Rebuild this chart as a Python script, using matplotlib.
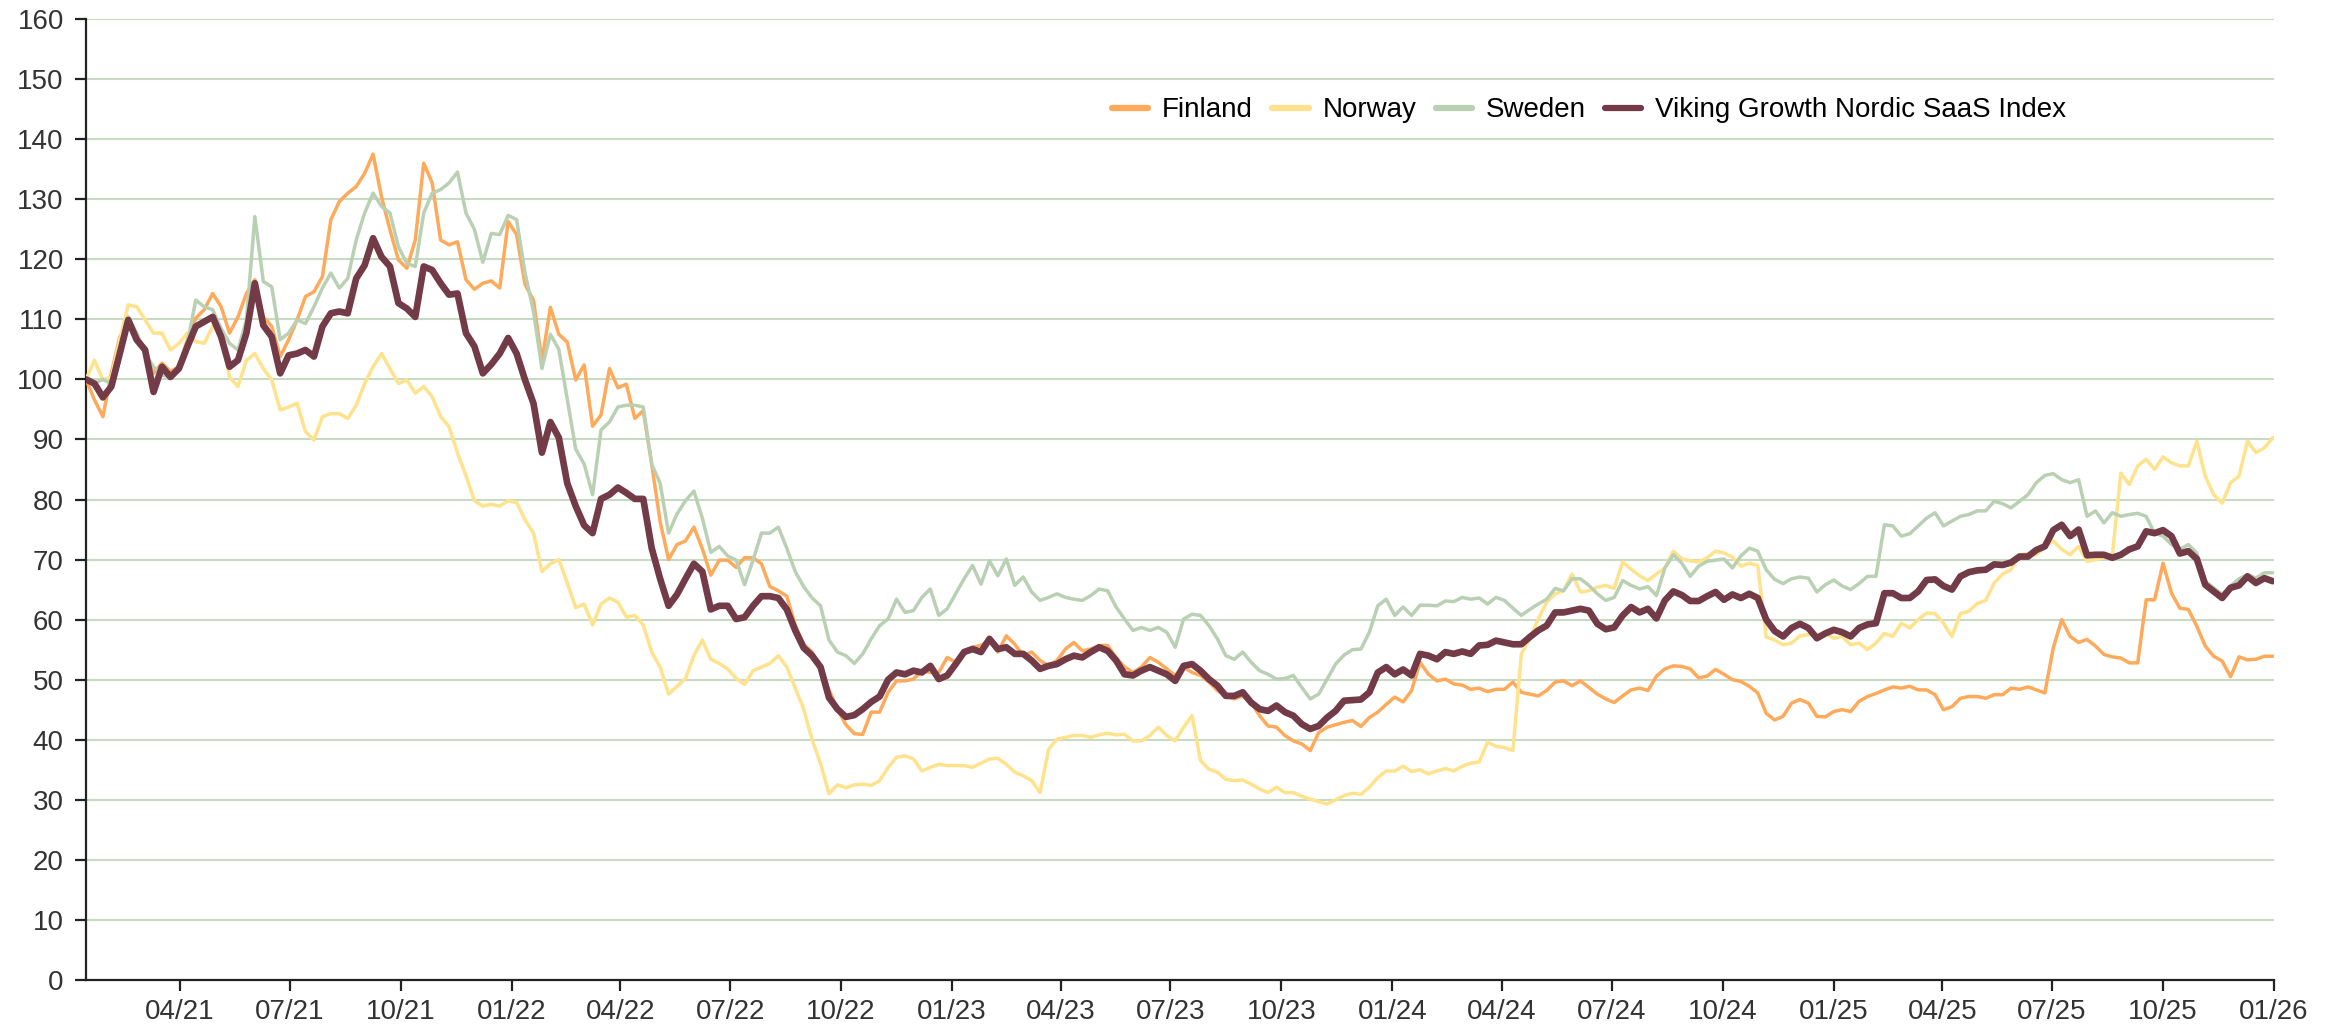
import matplotlib
matplotlib.use("Agg")
import matplotlib.pyplot as plt
import matplotlib.dates as mdates
import pandas as pd

# Weekly observations starting 2021-01-13
start_date = "2021-01-13"
n_points = 260

finland = [
    100, 96.6, 93.8, 101, 107.1, 109.3, 107.7, 104.3, 101, 102.7,
    101.3, 102.1, 106.6, 110.2, 111.6, 114.3, 112.1, 107.7, 110.4, 114.3,
    116.6, 110.4, 108.8, 103.8, 106.6, 109.9, 113.8, 114.6, 117.1, 126.6,
    129.6, 131, 132.1, 134.3, 137.5, 130.4, 124.9, 119.9, 118.5, 123.2,
    136, 132.7, 123.2, 122.4, 122.9, 116.6, 115, 116, 116.4, 115.2,
    126.3, 124.1, 115.8, 113.2, 103.1, 112, 107.5, 106.2, 99.9, 102.4,
    92.2, 94.1, 101.8, 98.6, 99.2, 93.5, 94.8, 85.9, 76.3, 70,
    72.5, 73.1, 75.4, 71.8, 67.4, 69.9, 69.9, 68.7, 70.3, 70.3,
    69.3, 65.5, 64.8, 63.9, 59.1, 55.9, 54.6, 51.5, 48.3, 45.1,
    42.5, 41, 40.9, 44.6, 44.6, 47.9, 49.8, 49.8, 50.1, 51.5,
    51.2, 51.2, 53.7, 52.9, 54.8, 55.4, 55.7, 56.5, 54.6, 57.3,
    55.9, 54, 54.6, 53.2, 52.3, 53.2, 55.1, 56.2, 54.8, 55.1,
    55.7, 55.7, 53.7, 52.1, 51.2, 52.1, 53.7, 52.9, 51.8, 50.7,
    52.1, 51.2, 50.7, 49.6, 48.2, 47.3, 46.8, 47.3, 46.2, 44,
    42.3, 42.1, 40.7, 39.8, 39.3, 38.2, 41.2, 42.1, 42.5, 42.9,
    43.2, 42.2, 43.7, 44.6, 45.9, 47.1, 46.3, 48.2, 52.9, 50.9,
    49.8, 50.1, 49.3, 49.1, 48.4, 48.6, 48, 48.4, 48.4, 49.6,
    47.9, 47.6, 47.3, 48.2, 49.6, 49.8, 49, 49.8, 48.7, 47.6,
    46.8, 46.2, 47.3, 48.3, 48.6, 48.2, 50.6, 51.8, 52.3, 52.2,
    51.8, 50.3, 50.6, 51.7, 50.9, 50, 49.7, 48.9, 47.8, 44.4,
    43.3, 43.9, 46.1, 46.7, 46.1, 43.9, 43.8, 44.7, 45, 44.7,
    46.4, 47.2, 47.7, 48.3, 48.8, 48.6, 48.9, 48.3, 48.3, 47.5,
    45, 45.5, 46.9, 47.2, 47.2, 46.9, 47.5, 47.5, 48.6, 48.4,
    48.8, 48.3, 47.8, 55.3, 60, 57.2, 56.2, 56.7, 55.6, 54.2,
    53.8, 53.6, 52.8, 52.8, 63.3, 63.3, 69.4, 64.4, 61.9, 61.7,
    58.9, 55.6, 53.9, 53.1, 50.5, 53.8, 53.3, 53.4, 53.9, 53.9,
]

norway = [
    100, 103.2, 99.9, 100.4, 106.6, 112.4, 112.1, 109.9, 107.7, 107.7,
    104.9, 106, 107.7, 106.3, 106, 108.8, 107.7, 100.4, 98.8, 103.2,
    104.3, 101.8, 99.9, 94.9, 95.4, 96, 91.3, 89.9, 93.8, 94.3,
    94.3, 93.5, 95.7, 99.3, 102.1, 104.3, 101.8, 99.3, 99.9, 97.7,
    98.8, 97.1, 93.8, 92.1, 87.7, 84, 79.8, 78.9, 79.2, 78.9,
    79.8, 79.5, 76.6, 74.4, 68, 69.3, 70, 66.1, 62, 62.6,
    59.1, 62.6, 63.6, 62.9, 60.4, 60.7, 59.1, 54.6, 52.1, 47.6,
    48.9, 50.2, 54, 56.6, 53.4, 52.7, 51.8, 50.2, 49.2, 51.5,
    52.1, 52.7, 54, 52.1, 48.6, 45.1, 40, 36, 31, 32.5,
    32, 32.5, 32.6, 32.4, 33.2, 35.4, 37.1, 37.3, 36.8, 34.8,
    35.4, 35.9, 35.7, 35.7, 35.7, 35.4, 36.1, 36.8, 36.9, 35.9,
    34.6, 34, 33.2, 31.2, 38.4, 40.1, 40.4, 40.7, 40.7, 40.4,
    40.8, 41.1, 40.8, 40.9, 39.8, 39.8, 40.7, 42.1, 40.7, 39.8,
    42.1, 44, 36.5, 35.1, 34.6, 33.4, 33.2, 33.3, 32.6, 31.8,
    31.2, 32.1, 31.2, 31.2, 30.6, 30.1, 29.7, 29.3, 30, 30.7,
    31.1, 30.9, 32.1, 33.7, 34.8, 34.8, 35.6, 34.7, 35, 34.3,
    34.8, 35.2, 34.8, 35.6, 36.1, 36.3, 39.6, 38.9, 38.7, 38.2,
    54.3, 56.8, 60.1, 62.9, 64.3, 64.8, 67.6, 64.6, 64.8, 65.4,
    65.7, 65.2, 69.6, 68.4, 67.3, 66.5, 67.6, 68.6, 71.4, 70.1,
    69.8, 69.6, 70.3, 71.4, 71.1, 70.4, 68.9, 69.4, 69, 57.1,
    56.6, 55.8, 56.1, 57.3, 57.5, 57.5, 57.7, 56.9, 57.2, 55.8,
    56.1, 55, 56.1, 57.7, 57.2, 59.4, 58.6, 60, 61.1, 61,
    59.4, 57.2, 61, 61.4, 62.7, 63.2, 66.1, 67.6, 68.3, 70.8,
    71, 70.8, 72.2, 73.1, 71.7, 70.8, 72.2, 69.7, 70, 70.3,
    70.8, 84.4, 82.5, 85.6, 86.7, 85, 87.1, 86.1, 85.6, 85.6,
    89.7, 83.9, 80.8, 79.4, 82.8, 83.9, 89.7, 87.8, 88.6, 90.3,
]

sweden = [
    100, 99.3, 100, 99.3, 104.3, 110.4, 107.7, 104.3, 102.1, 100.7,
    100.4, 102.4, 106, 113.2, 112.1, 111.6, 108.5, 106, 104.9, 109.9,
    127.1, 116.3, 115.4, 106.6, 107.7, 109.9, 109.3, 112.1, 115.2, 117.7,
    115.2, 116.8, 123.2, 127.7, 131, 128.8, 127.7, 122.1, 119.3, 118.8,
    127.7, 131, 131.6, 132.7, 134.5, 127.7, 125, 119.5, 124.3, 124.1,
    127.3, 126.6, 117.7, 111.3, 101.8, 107.5, 105, 96.7, 88.4, 85.9,
    80.8, 91.6, 92.9, 95.4, 95.7, 95.7, 95.4, 85.9, 82.7, 74.4,
    77.6, 79.8, 81.4, 76.9, 71.2, 72.2, 70.6, 69.9, 65.8, 69.9,
    74.4, 74.4, 75.4, 71.9, 68, 65.5, 63.6, 62.3, 56.6, 54.6,
    54, 52.7, 54.3, 56.8, 59, 60.1, 63.4, 61.2, 61.5, 63.7,
    65.1, 60.7, 61.8, 64.3, 66.8, 69, 65.9, 69.8, 67.3, 70.1,
    65.7, 67.1, 64.6, 63.2, 63.7, 64.3, 63.7, 63.4, 63.2, 64,
    65.1, 64.8, 62.1, 60.1, 58.2, 58.7, 58.2, 58.7, 57.9, 55.4,
    60.1, 60.9, 60.7, 59, 56.8, 54, 53.4, 54.6, 52.9, 51.5,
    50.9, 50.1, 50.2, 50.7, 48.7, 46.8, 47.6, 50.1, 52.6, 54.1,
    55, 55.1, 57.9, 62.3, 63.4, 60.7, 62.1, 60.7, 62.4, 62.4,
    62.3, 63.1, 63, 63.7, 63.4, 63.6, 62.6, 63.7, 63.2, 61.9,
    60.7, 61.7, 62.6, 63.4, 65.2, 64.8, 66.8, 66.8, 65.7, 64.3,
    63.2, 63.7, 66.5, 65.7, 65.1, 65.5, 64, 68.6, 70.8, 69.4,
    67.2, 68.9, 69.7, 69.9, 70.1, 68.6, 70.6, 71.9, 71.4, 68.3,
    66.7, 66, 66.8, 67.1, 66.9, 64.6, 65.8, 66.6, 65.6, 65,
    66, 67.2, 67.2, 75.8, 75.6, 73.9, 74.3, 75.6, 76.9, 77.8,
    75.6, 76.4, 77.2, 77.5, 78.1, 78.1, 79.7, 79.3, 78.6, 79.7,
    80.8, 82.8, 84, 84.3, 83.3, 82.8, 83.3, 77.2, 78.1, 76.1,
    77.8, 77.2, 77.5, 77.7, 77.2, 74.4, 73.9, 72.5, 71.7, 72.5,
    71.1, 66.4, 65.3, 64.2, 65.6, 66.8, 67.5, 66.9, 67.8, 67.8,
]

index_vals = [
    100, 99.3, 97, 98.8, 104.3, 109.9, 106.6, 104.9, 97.9, 102.1,
    100.4, 101.8, 105.4, 108.8, 109.6, 110.4, 107.1, 102.1, 103.2, 107.7,
    116, 109, 107.1, 101, 104, 104.3, 104.9, 103.8, 108.8, 111,
    111.3, 111, 116.8, 119, 123.5, 120.4, 118.8, 112.7, 111.8, 110.4,
    118.8, 118.2, 116, 114.1, 114.3, 107.7, 105.5, 101, 102.5, 104.3,
    106.9, 104.3, 99.9, 96, 87.8, 92.9, 90.3, 82.7, 78.9, 75.7,
    74.4, 80.1, 80.8, 82, 81.1, 80.1, 80.1, 71.9, 66.8, 62.3,
    64.2, 66.8, 69.3, 68, 61.7, 62.3, 62.3, 60.1, 60.4, 62.3,
    63.9, 63.9, 63.6, 61.7, 58.2, 55.3, 54, 52.1, 47, 45.1,
    43.8, 44.1, 45.1, 46.3, 47.2, 50, 51.2, 50.9, 51.5, 51.2,
    52.3, 50.1, 50.7, 52.6, 54.6, 55.1, 54.6, 56.8, 55.1, 55.4,
    54.3, 54.3, 53.2, 51.8, 52.3, 52.6, 53.4, 54, 53.7, 54.6,
    55.4, 54.8, 53.2, 50.9, 50.7, 51.5, 52.1, 51.5, 50.9, 49.8,
    52.3, 52.6, 51.5, 50.1, 49, 47.3, 47.3, 47.9, 46.2, 45.1,
    44.8, 45.7, 44.6, 44, 42.6, 41.8, 42.3, 43.7, 44.8, 46.5,
    46.6, 46.7, 47.9, 51.2, 52.1, 50.9, 51.7, 50.7, 54.3, 54,
    53.4, 54.6, 54.3, 54.7, 54.3, 55.7, 55.8, 56.5, 56.2, 55.9,
    55.9, 57.1, 58.2, 59, 61.2, 61.2, 61.5, 61.8, 61.5, 59.3,
    58.4, 58.7, 60.7, 62.1, 61.2, 61.8, 60.2, 63.2, 64.7, 64.1,
    63.1, 63.1, 63.9, 64.6, 63.3, 64.2, 63.6, 64.3, 63.6, 60,
    58.1, 57.2, 58.6, 59.3, 58.6, 56.9, 57.7, 58.3, 57.9, 57.2,
    58.6, 59.2, 59.4, 64.4, 64.4, 63.6, 63.6, 64.7, 66.6, 66.7,
    65.6, 65, 67.2, 67.9, 68.2, 68.3, 69.2, 69.1, 69.5, 70.5,
    70.5, 71.6, 72.2, 74.9, 75.8, 73.9, 75, 70.7, 70.8, 70.8,
    70.3, 70.8, 71.7, 72.2, 74.7, 74.4, 74.9, 73.9, 71, 71.4,
    70.1, 65.8, 64.7, 63.6, 65.3, 65.7, 67.2, 66.1, 66.9, 66.4,
]

labels = ["Finland", "Norway", "Sweden", "Viking Growth Nordic SaaS Index"]
colors = ["#FFA95B", "#FFE28C", "#B9D0B3", "#733A48"]
widths = [2.5, 2.5, 2.5, 4.8]
y_ticks = list(range(0, 161, 10))

dates = pd.date_range(start_date, periods=n_points, freq="7D")

plt.rcParams["font.family"] = ["Liberation Sans", "DejaVu Sans"]

fig = plt.figure(figsize=(23.35, 10.30), dpi=100)
ax = fig.add_axes([86 / 2335, 1 - 980 / 1030, (2274 - 86) / 2335, (980 - 19) / 1030])

series = [finland, norway, sweden, index_vals]
for vals, lab, col, lw in zip(series, labels, colors, widths):
    ax.plot(dates, vals, color=col, lw=lw, label=lab,
            solid_joinstyle="round", solid_capstyle="round", zorder=3)

ax.set_ylim(0, 160)
ax.set_yticks(y_ticks)
ax.set_xlim(dates[0], pd.Timestamp("2026-01-01"))
ax.xaxis.set_major_locator(mdates.MonthLocator(bymonth=[1, 4, 7, 10]))
ax.xaxis.set_major_formatter(mdates.DateFormatter("%m/%y"))

ax.grid(axis="y", color="#C6DBC2", lw=1.5, zorder=0)
ax.grid(axis="x", visible=False)
for side in ["top", "right"]:
    ax.spines[side].set_visible(False)
for side in ["left", "bottom"]:
    ax.spines[side].set_color("#222222")
    ax.spines[side].set_linewidth(1.6)

ax.tick_params(axis="both", colors="#222222", labelcolor="#333333",
               labelsize=20, length=8, width=1.6, direction="out")
ax.tick_params(axis="y", pad=8)
ax.tick_params(axis="x", pad=6)

leg = ax.legend(loc="center", bbox_to_anchor=(0.687, 0.905), ncol=4, frameon=False,
                fontsize=20, handlelength=1.3, columnspacing=0.7, handletextpad=0.5)
for line in leg.get_lines():
    line.set_linewidth(4.5)
    line.set_solid_capstyle("round")

fig.savefig("out.png", dpi=100, facecolor="white")
